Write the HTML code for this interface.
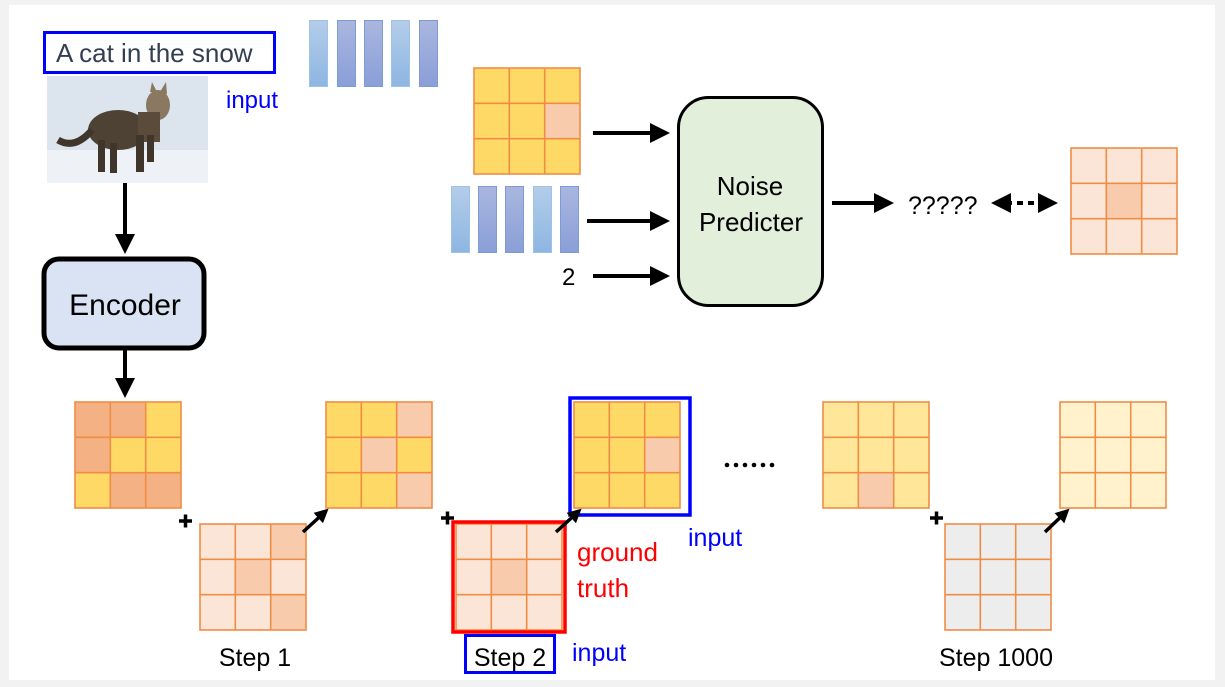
<!DOCTYPE html>
<html><head><meta charset="utf-8"><style>
html,body{margin:0;padding:0;background:#f2f2f2;}
svg{display:block;}
text{font-family:"Liberation Sans","DejaVu Sans",sans-serif;}
</style></head><body>
<svg width="1225" height="687" viewBox="0 0 1225 687" xmlns="http://www.w3.org/2000/svg">
<defs>
<linearGradient id="bl" x1="0" y1="0" x2="0" y2="1"><stop offset="0" stop-color="#B4CDE9"/><stop offset="1" stop-color="#8DB6E2"/></linearGradient>
<linearGradient id="bd" x1="0" y1="0" x2="0" y2="1"><stop offset="0" stop-color="#A9B6DF"/><stop offset="1" stop-color="#8A9FD8"/></linearGradient>
<marker id="ah" markerWidth="5" markerHeight="5" refX="4" refY="2.5" orient="auto" markerUnits="strokeWidth"><path d="M0,0 L5,2.5 L0,5 z" fill="#000"/></marker>
<marker id="ah2" markerWidth="4" markerHeight="4" refX="3" refY="2" orient="auto" markerUnits="strokeWidth"><path d="M0,0 L4,2 L0,4 z" fill="#000"/></marker>
<marker id="as" markerWidth="5" markerHeight="5" refX="1" refY="2.5" orient="auto" markerUnits="strokeWidth"><path d="M5,0 L0,2.5 L5,5 z" fill="#000"/></marker>
<g id="lines"><path d="M35.3,0V106M70.7,0V106M0,35.3H106M0,70.7H106" stroke="#F08D45" stroke-width="1.6" fill="none"/><rect x="0" y="0" width="106" height="106" fill="none" stroke="#F08D45" stroke-width="1.6"/></g>
</defs>
<rect x="9" y="5" width="1206" height="675" fill="#fff"/>

<!-- text box -->
<rect x="44.5" y="32.5" width="230" height="40" fill="#fff" stroke="#0000FF" stroke-width="3"/>
<text x="56" y="62" font-size="26" fill="#333F50">A cat in the snow</text>
<!-- cat image -->
<rect x="47" y="76" width="161" height="107" fill="#DCE4EE"/>
<rect x="47" y="150" width="161" height="33" fill="#EEF2F7"/>
<ellipse cx="118" cy="130" rx="30" ry="20" fill="#4E4234"/>
<ellipse cx="158" cy="105" rx="12" ry="15" fill="#8A7860"/>
<path d="M150,92 L152,82 L157,92 Z M160,92 L166,82 L167,94 Z" fill="#8A7860"/>
<rect x="138" y="112" width="22" height="30" fill="#5A4B3A"/>
<path d="M92,130 Q75,150 58,140" stroke="#3F352A" stroke-width="7" fill="none"/>
<rect x="98" y="140" width="7" height="32" fill="#3F352A"/>
<rect x="110" y="143" width="7" height="30" fill="#3F352A"/>
<rect x="136" y="135" width="8" height="37" fill="#3F352A"/>
<rect x="147" y="135" width="7" height="27" fill="#3F352A"/>
<text x="226" y="108" font-size="24" fill="#0000FF">input</text>

<!-- top bars -->
<rect x="309.5" y="20.5" width="18" height="66" fill="url(#bl)" stroke="#9DC3E6"/>
<rect x="337.5" y="20.5" width="18" height="66" fill="url(#bd)" stroke="#7F9BD6"/>
<rect x="364.5" y="20.5" width="18" height="66" fill="url(#bd)" stroke="#7F9BD6"/>
<rect x="391.5" y="20.5" width="18" height="66" fill="url(#bl)" stroke="#9DC3E6"/>
<rect x="419.5" y="20.5" width="18" height="66" fill="url(#bd)" stroke="#7F9BD6"/>

<!-- top grid -->
<g transform="translate(474,68)"><rect width="106" height="106" fill="#FFD966"/><rect x="70.7" y="35.3" width="35.3" height="35.3" fill="#F8CBAD"/><use href="#lines"/></g>
<!-- second bars -->
<rect x="451.5" y="186.5" width="18" height="66" fill="url(#bl)" stroke="#9DC3E6"/>
<rect x="478.5" y="186.5" width="18" height="66" fill="url(#bd)" stroke="#7F9BD6"/>
<rect x="505.5" y="186.5" width="18" height="66" fill="url(#bd)" stroke="#7F9BD6"/>
<rect x="533.5" y="186.5" width="18" height="66" fill="url(#bl)" stroke="#9DC3E6"/>
<rect x="560.5" y="186.5" width="18" height="66" fill="url(#bd)" stroke="#7F9BD6"/>
<text x="562" y="285" font-size="24" fill="#000">2</text>

<!-- arrows into noise predictor -->
<line x1="593" y1="133" x2="666" y2="133" stroke="#000" stroke-width="4" marker-end="url(#ah)"/>
<line x1="587" y1="221" x2="666" y2="221" stroke="#000" stroke-width="4" marker-end="url(#ah)"/>
<line x1="593" y1="276" x2="666" y2="276" stroke="#000" stroke-width="4" marker-end="url(#ah)"/>

<rect x="678.5" y="97.5" width="144" height="208" rx="30" fill="#E2EFDA" stroke="#000" stroke-width="3"/>
<text x="750" y="195" font-size="26" text-anchor="middle" fill="#000">Noise</text>
<text x="751" y="231" font-size="26" text-anchor="middle" fill="#000">Predicter</text>

<line x1="832" y1="203" x2="890" y2="203" stroke="#000" stroke-width="4" marker-end="url(#ah)"/>
<text x="908" y="214" font-size="25" fill="#000">?????</text>
<line x1="995" y1="203" x2="1054" y2="203" stroke="#000" stroke-width="4" stroke-dasharray="6,5" marker-start="url(#as)" marker-end="url(#ah)"/>

<g transform="translate(1071,148)"><rect width="106" height="106" fill="#FBE5D6"/><rect x="35.3" y="35.3" width="35.3" height="35.3" fill="#F8CBAD"/><use href="#lines"/></g>

<!-- encoder -->
<line x1="125" y1="183" x2="125" y2="250" stroke="#000" stroke-width="4" marker-end="url(#ah)"/>
<rect x="44" y="259" width="160" height="89" rx="15" fill="#DAE3F3" stroke="#000" stroke-width="5"/>
<text x="125" y="315" font-size="30" text-anchor="middle" fill="#000">Encoder</text>
<line x1="125" y1="350" x2="125" y2="394" stroke="#000" stroke-width="4" marker-end="url(#ah)"/>

<!-- G1 -->
<g transform="translate(75,402)"><rect width="106" height="106" fill="#FFD966"/>
<rect x="0" y="0" width="70.7" height="35.3" fill="#F4B183"/><rect x="0" y="35.3" width="35.3" height="35.3" fill="#F4B183"/><rect x="35.3" y="70.7" width="70.7" height="35.3" fill="#F4B183"/><use href="#lines"/></g>
<!-- G2 -->
<g transform="translate(326,402)"><rect width="106" height="106" fill="#FFD966"/>
<rect x="70.7" y="0" width="35.3" height="35.3" fill="#F8CBAD"/><rect x="35.3" y="35.3" width="35.3" height="35.3" fill="#F8CBAD"/><rect x="70.7" y="70.7" width="35.3" height="35.3" fill="#F8CBAD"/><use href="#lines"/></g>
<!-- G3 -->
<g transform="translate(574,402)"><rect width="106" height="106" fill="#FFD966"/><rect x="70.7" y="35.3" width="35.3" height="35.3" fill="#F8CBAD"/><use href="#lines"/></g>
<rect x="570" y="398" width="120" height="117" fill="none" stroke="#0000FF" stroke-width="3.5"/>
<!-- G4 -->
<g transform="translate(823,402)"><rect width="106" height="106" fill="#FFE699"/><rect x="35.3" y="70.7" width="35.3" height="35.3" fill="#F8CBAD"/><use href="#lines"/></g>
<!-- G5 -->
<g transform="translate(1060,402)"><rect width="106" height="106" fill="#FFF2CC"/><use href="#lines"/></g>

<!-- noise grids -->
<g transform="translate(200,524)"><rect width="106" height="106" fill="#FBE5D6"/>
<rect x="70.7" y="0" width="35.3" height="35.3" fill="#F8CBAD"/><rect x="35.3" y="35.3" width="35.3" height="35.3" fill="#F8CBAD"/><rect x="70.7" y="70.7" width="35.3" height="35.3" fill="#F8CBAD"/><use href="#lines"/></g>
<g transform="translate(456,524)"><rect width="106" height="106" fill="#FBE5D6"/><rect x="35.3" y="35.3" width="35.3" height="35.3" fill="#F8CBAD"/><use href="#lines"/></g>
<rect x="453" y="522" width="112" height="110" fill="none" stroke="#FF0000" stroke-width="3.5"/>
<g transform="translate(945,524)"><rect width="106" height="106" fill="#EDEDED"/><use href="#lines"/></g>

<!-- plus signs -->
<path d="M179,521h13M185.5,514.5v13" stroke="#000" stroke-width="3.5"/>
<path d="M441,518h13M447.5,511.5v13" stroke="#000" stroke-width="3.5"/>
<path d="M930,518h13M936.5,511.5v13" stroke="#000" stroke-width="3.5"/>

<!-- diagonal arrows -->
<line x1="303" y1="532" x2="326" y2="511" stroke="#000" stroke-width="3.5" marker-end="url(#ah2)"/>
<line x1="556" y1="532" x2="579" y2="511" stroke="#000" stroke-width="3.5" marker-end="url(#ah2)"/>
<line x1="1045" y1="532" x2="1067" y2="511" stroke="#000" stroke-width="3.5" marker-end="url(#ah2)"/>

<g fill="#000"><circle cx="727" cy="465" r="2.3"/><circle cx="736" cy="465" r="2.3"/><circle cx="745" cy="465" r="2.3"/><circle cx="754" cy="465" r="2.3"/><circle cx="763" cy="465" r="2.3"/><circle cx="772" cy="465" r="2.3"/></g>

<text x="577" y="561" font-size="26" fill="#FF0000">ground</text>
<text x="577" y="597" font-size="26" fill="#FF0000">truth</text>
<text x="688" y="546" font-size="25" fill="#0000FF">input</text>
<text x="572" y="661" font-size="25" fill="#0000FF">input</text>

<text x="255" y="666" font-size="25" text-anchor="middle" fill="#000">Step 1</text>
<rect x="465.5" y="635.5" width="89" height="37" fill="#fff" stroke="#0000FF" stroke-width="3"/>
<text x="510" y="666" font-size="25" text-anchor="middle" fill="#000">Step 2</text>
<text x="996" y="666" font-size="25" text-anchor="middle" fill="#000">Step 1000</text>
</svg>
</body></html>
